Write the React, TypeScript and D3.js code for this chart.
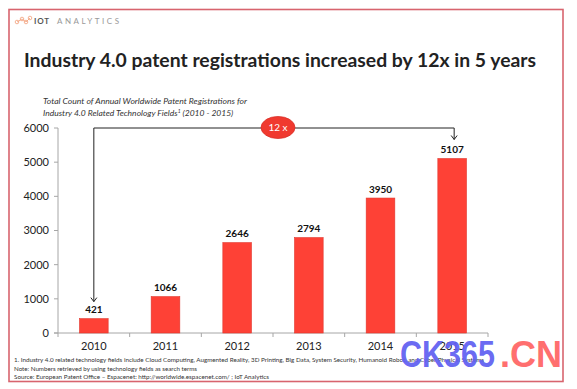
import React from 'react';
import * as d3 from 'd3';

const years = ['2010', '2011', '2012', '2013', '2014', '2015'];
const registrations = [421, 1066, 2646, 2794, 3950, 5107];
const yTicks = [0, 1000, 2000, 3000, 4000, 5000, 6000];
const footnotes = [
  '1.  Industry 4.0 related technology fields include Cloud Computing, Augmented Reality, 3D Printing, Big Data, System Security, Humanoid Robot, and Cyber Physical Systems',
  'Note: Numbers retrieved by using technology fields as search terms',
  'Source: European Patent Office \u2013 Espacenet: http://worldwide.espacenet.com/ ; IoT Analytics',
];
const footnoteWidths = [470, 183, 255];

const W = 577;
const H = 389;
const FONT = 'Lato, "Open Sans", sans-serif';
const BAR = '#fe4136';

const App: React.FC = () => {
  const x = d3.scaleBand<string>()
    .domain(years)
    .range([58, 488])
    .paddingInner(0.6)
    .paddingOuter(0.3);
  const step = x.step();
  const y = d3.scaleLinear().domain([0, 6000]).range([333, 128]);

  const first = x(years[0])! + x.bandwidth() / 2;
  const lastIdx = years.length - 1;
  const last = x(years[lastIdx])! + x.bandwidth() / 2 + 2;
  const topY = y(6000);

  // boundaries between categories for x-axis ticks
  const boundaries = d3.range(years.length + 1).map(i => 58 + i * step);

  return (
    <svg width={W} height={H} style={{ position: 'absolute', left: 0, top: 0, background: '#fff' }}>
      {/* frame */}
      <rect x={9} y={9.5} width={554} height={372} fill="#fff" stroke="#d8646e" strokeWidth={1.6} />

      {/* logo */}
      <g stroke="#f2a07a" strokeWidth={0.8} fill="none">
        <line x1={17} y1={22} x2={22} y2={19} />
        <line x1={22} y1={19} x2={26} y2={22} />
        <line x1={26} y1={22} x2={30} y2={18} />
        <circle cx={17} cy={22} r={1.8} />
        <circle cx={22} cy={19} r={1.8} />
        <circle cx={26} cy={22} r={1.8} />
        <circle cx={30} cy={18} r={1.8} />
      </g>
      <text x={34} y={23.5} fontFamily={FONT} fontSize={8} fontWeight="bold" fill="#555" letterSpacing={0.8}>IOT</text>
      <text x={57} y={23.5} fontFamily={FONT} fontSize={8} fill="#999" textLength={62} lengthAdjust="spacing">ANALYTICS</text>

      {/* title */}
      <text x={24} y={67} fontFamily={FONT} fontSize={19} fontWeight="bold" fill="#222"
        textLength={512} lengthAdjust="spacingAndGlyphs">
        Industry 4.0 patent registrations increased by 12x in 5 years
      </text>

      {/* subtitle */}
      <text x={43} y={104} fontFamily={FONT} fontSize={8.5} fontStyle="italic" fill="#333"
        textLength={204} lengthAdjust="spacingAndGlyphs">
        Total Count of Annual Worldwide Patent Registrations for
      </text>
      <text x={43} y={115.5} fontFamily={FONT} fontSize={8.5} fontStyle="italic" fill="#333">
        Industry 4.0 Related Technology Fields<tspan fontSize={5} dy={-3}>1</tspan>
        <tspan dy={3}> (2010 - 2015)</tspan>
      </text>

      {/* y axis */}
      <line x1={58} x2={58} y1={y(6000)} y2={y(0)} stroke="#a6a6a6" strokeWidth={1} />
      {yTicks.map(t => (
        <g key={t}>
          <line x1={54} x2={58} y1={y(t)} y2={y(t)} stroke="#a6a6a6" />
          <text x={49} y={y(t)} dy="0.35em" textAnchor="end" fontFamily={FONT} fontSize={11} fill="#222">{t}</text>
        </g>
      ))}

      {/* x axis */}
      <line x1={54} x2={488} y1={y(0)} y2={y(0)} stroke="#a6a6a6" />
      {boundaries.map((b, i) => (
        <line key={i} x1={b} x2={b} y1={y(0)} y2={y(0) + 4} stroke="#a6a6a6" />
      ))}
      {years.map(yr => (
        <text key={yr} x={x(yr)! + x.bandwidth() / 2} y={350} textAnchor="middle" fontFamily={FONT} fontSize={11} fill="#222">{yr}</text>
      ))}

      {/* bars */}
      {years.map((yr, i) => (
        <g key={yr}>
          <rect x={x(yr)!} y={y(registrations[i])} width={x.bandwidth()} height={y(0) - y(registrations[i])}
            fill={BAR} stroke="#e2372d" strokeWidth={0.6} />
          <text x={x(yr)! + x.bandwidth() / 2} y={y(registrations[i]) - 5.5} textAnchor="middle"
            fontFamily={FONT} fontSize={10} fontWeight="bold" fill="#111">{registrations[i]}</text>
        </g>
      ))}

      {/* growth bracket */}
      <g stroke="#222" strokeWidth={1} fill="none">
        <polyline points={`${first},${y(registrations[0]) - 17} ${first},${topY} ${last},${topY} ${last},${y(registrations[lastIdx]) - 19}`} />
        <polyline points={`${first - 3},${y(registrations[0]) - 21} ${first},${y(registrations[0]) - 17} ${first + 3},${y(registrations[0]) - 21}`} />
        <polyline points={`${last - 3},${y(registrations[lastIdx]) - 23} ${last},${y(registrations[lastIdx]) - 19} ${last + 3},${y(registrations[lastIdx]) - 23}`} />
      </g>
      <ellipse cx={278} cy={127.5} rx={17} ry={11} fill="#f0392f" stroke="#d93028" strokeWidth={0.8} />
      <text x={278} y={127.5} dy="0.35em" textAnchor="middle" fontFamily={FONT} fontSize={10} fill="#fff">12 x</text>

      {/* footnotes */}
      {footnotes.map((f, i) => (
        <text key={i} x={14} y={362 + i * 8.6} fontFamily={FONT} fontSize={6.5} fill="#333"
          textLength={footnoteWidths[i]} lengthAdjust="spacingAndGlyphs">{f}</text>
      ))}

      {/* watermark */}
      <text x={400} y={367} fontFamily='"Liberation Sans", sans-serif' fontSize={36} fontWeight="bold"
        fill="#6262f2" fillOpacity={0.95} textLength={95} lengthAdjust="spacingAndGlyphs">CK365</text>
      <text x={500} y={367} fontFamily='"Liberation Sans", sans-serif' fontSize={36} fontWeight="bold"
        fill="#ff6f6f" textLength={62} lengthAdjust="spacingAndGlyphs">.CN</text>
    </svg>
  );
};

export default App;
